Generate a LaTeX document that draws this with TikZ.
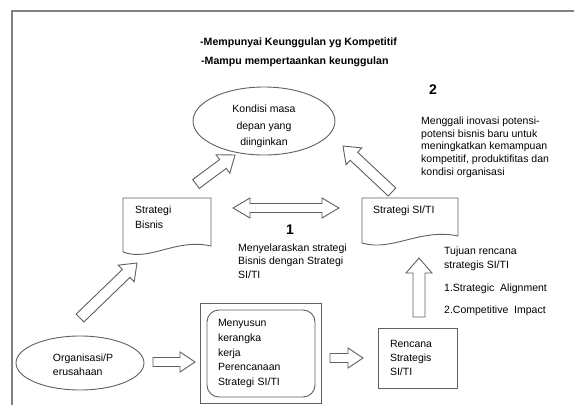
\documentclass[tikz,border=0pt]{standalone}
\usepackage{fontspec}
\setmainfont{Liberation Sans}
\usetikzlibrary{calc,shapes.geometric,fit}
\definecolor{linegray}{RGB}{95,95,95}
\definecolor{framegray}{RGB}{130,130,130}
\tikzset{
  outline/.style={draw=linegray, line width=0.9pt},
  oval/.style={ellipse, outline},
  txt/.style={inner sep=0pt, align=left, font=\fontsize{10.5}{14}\selectfont},
  boldtxt/.style={inner sep=0pt, font=\bfseries\fontsize{10.6}{12}\selectfont},
  bignum/.style={inner sep=0pt, font=\bfseries\fontsize{14}{16}\selectfont},
  blockarrow/.style 2 args={outline, to path={
    let \p1=(\tikztostart), \p2=(\tikztotarget), \p3=($(\p2)!15pt!(\p1)$) in
    ($(\p1)!#1pt!90:(\p2)$) -- ($(\p3)!#1pt!90:(\p2)$) -- ($(\p3)!#2pt!90:(\p2)$) -- (\p2)
    -- ($(\p3)!#2pt!-90:(\p2)$) -- ($(\p3)!#1pt!-90:(\p2)$) -- ($(\p1)!#1pt!-90:(\p2)$) -- cycle}},
  dblarrow/.style 2 args={outline, to path={
    let \p1=(\tikztostart), \p2=(\tikztotarget), \p3=($(\p2)!17pt!(\p1)$), \p4=($(\p1)!17pt!(\p2)$) in
    (\p1) -- ($(\p4)!#2pt!90:(\p2)$) -- ($(\p4)!#1pt!90:(\p2)$) -- ($(\p3)!#1pt!90:(\p2)$) -- ($(\p3)!#2pt!90:(\p2)$) -- (\p2)
    -- ($(\p3)!#2pt!-90:(\p2)$) -- ($(\p3)!#1pt!-90:(\p2)$) -- ($(\p4)!#1pt!-90:(\p2)$) -- ($(\p4)!#2pt!-90:(\p2)$) -- cycle}}
}

\begin{document}
\begin{tikzpicture}[x=1pt,y=-1pt]
        \useasboundingbox (0,0) rectangle (574,405);
        \draw[draw=framegray, line width=1.6pt] (12,405) -- (12,11) -- (574,11);

        \coordinate (a1s) at (196,184);
        \coordinate (a1e) at (235,155);
        \coordinate (a2s) at (392,192);
        \coordinate (a2e) at (343,146);
        \coordinate (a3s) at (80,318);
        \coordinate (a3e) at (137,263);
        \coordinate (a4s) at (153,362);
        \coordinate (a4e) at (195,362);
        \coordinate (a5s) at (330,358);
        \coordinate (a5e) at (363,358);
        \coordinate (a6s) at (419,317);
        \coordinate (a6e) at (419,258);
        \coordinate (d1) at (233,208);
        \coordinate (d2) at (339,208);

        \node[boldtxt,anchor=west] (goal1) at (200,43) {-Mempunyai Keunggulan yg Kompetitif};
        \node[boldtxt,anchor=west] (goal2) at (201,62) {-Mampu mempertaankan keunggulan};
        \node[bignum] (num2) at (433,90) {2};
        \node[bignum] (num1) at (290,230) {1};

        \node[oval,minimum width=142pt,minimum height=68pt] (kondisi) at (264,121) {};
        \node[txt,align=center,font=\fontsize{10.5}{16.5}\selectfont] (kondisiText) at (264,126.5) {Kondisi masa\\depan yang\\diinginkan};

        \node[oval,minimum width=128pt,minimum height=54pt] (organisasi) at (80,363) {};
        \node[txt] (organisasiText) at (83,365) {Organisasi/P\\erusahaan};

        \node[txt,anchor=north west,inner xsep=12pt,inner ysep=8pt,font=\fontsize{10.5}{15}\selectfont] (bisnis) at (123,198) {Strategi\\Bisnis};
        \draw[outline] (bisnis.north west) -- ++(88,0) -- ++(0,48) .. controls +(-36,-8) and +(27,10) .. ++(-88,6) -- cycle;

        \node[txt,anchor=north west,inner xsep=11pt,inner ysep=8pt] (siti) at (362,198) {Strategi SI/TI};
        \draw[outline] (siti.north west) -- ++(96,0) -- ++(0,38) .. controls +(-38,-8) and +(30,9) .. ++(-96,7) -- cycle;

        \node[txt,outline,rounded corners=12pt,minimum height=87pt,text width=86pt,inner xsep=11pt,font=\fontsize{10.5}{14.75}\selectfont] (menyusun) at (261,353.5) {Menyusun\\kerangka\\kerja\\Perencanaan\\Strategi SI/TI};
        \node[outline,fit=(menyusun),inner xsep=6pt,inner ysep=6pt] (menyusunFrame) {};

        \node[txt,outline,minimum height=60pt,text width=55pt,inner xsep=12pt] (rencana) at (417.5,358) {Rencana\\Strategis\\SI/TI};

        \node[txt,anchor=north west,font=\fontsize{10.5}{12.8}\selectfont] (inovasi) at (421,116.5) {Menggali inovasi potensi-\\potensi bisnis baru untuk\\meningkatkan kemampuan\\kompetitif, produktifitas dan\\kondisi organisasi};
        \node[txt,anchor=north west,font=\fontsize{10.5}{13.5}\selectfont] (selaras) at (238,243.5) {Menyelaraskan strategi\\Bisnis dengan Strategi\\SI/TI};
        \node[txt,anchor=north west] (tujuan) at (444,247) {Tujuan rencana\\strategis SI/TI};
        \node[txt,anchor=west] (alignment) at (444,289) {1.Strategic\ \ Alignment};
        \node[txt,anchor=west] (impact) at (444,311) {2.Competitive\ \ Impact};

        \draw[blockarrow={5.5}{11.5}] (a1s) to (a1e);
        \draw[blockarrow={5.5}{11.5}] (a2s) to (a2e);
        \draw[blockarrow={5.5}{11.5}] (a3s) to (a3e);
        \draw[blockarrow={4.5}{10}] (a4s) to (a4e);
        \draw[blockarrow={4.5}{10}] (a5s) to (a5e);
        \draw[blockarrow={6}{13}] (a6s) to (a6e);
        \draw[dblarrow={4.5}{10}] (d1) to (d2);
    \end{tikzpicture}
\end{document}
